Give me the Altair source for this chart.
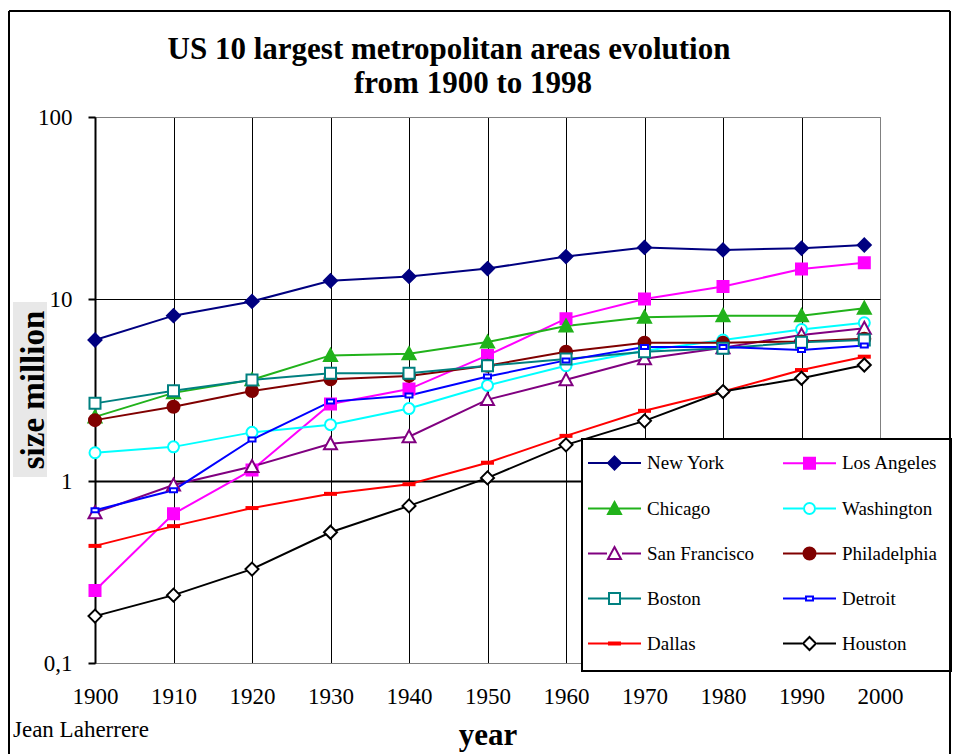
import altair as alt
import pandas as pd

# ---------------- data ----------------
years = [1900, 1910, 1920, 1930, 1940, 1950, 1960, 1970, 1980, 1990, 1998]
cities = ["New York", "Los Angeles", "Chicago", "Washington", "San Francisco",
          "Philadelphia", "Boston", "Detroit", "Dallas", "Houston"]
new_york = [5.95, 8.1, 9.7, 12.6, 13.3, 14.7, 17.1, 19.2, 18.6, 19.0, 19.8]
los_angeles = [0.25, 0.66, 1.15, 2.65, 3.2, 4.9, 7.8, 10.0, 11.7, 14.6, 15.8]
chicago = [2.25, 3.05, 3.6, 4.9, 5.0, 5.8, 7.1, 7.95, 8.1, 8.1, 8.9]
washington = [1.43, 1.54, 1.85, 2.04, 2.5, 3.35, 4.3, 5.2, 5.95, 6.8, 7.4]
san_francisco = [0.67, 0.95, 1.2, 1.6, 1.75, 2.8, 3.6, 4.7, 5.4, 6.35, 6.9]
philadelphia = [2.16, 2.56, 3.12, 3.62, 3.78, 4.3, 5.13, 5.75, 5.75, 5.85, 6.05]
boston = [2.67, 3.13, 3.59, 3.91, 3.91, 4.3, 4.68, 5.13, 5.36, 5.78, 5.95]
detroit = [0.69, 0.89, 1.69, 2.73, 2.95, 3.75, 4.6, 5.45, 5.45, 5.25, 5.55]
dallas = [0.44, 0.565, 0.71, 0.85, 0.96, 1.26, 1.77, 2.43, 3.1, 4.07, 4.82]
houston = [0.181, 0.236, 0.328, 0.523, 0.73, 1.04, 1.58, 2.14, 3.1, 3.67, 4.34]
series = [new_york, los_angeles, chicago, washington, san_francisco,
          philadelphia, boston, detroit, dallas, houston]

line_colors = ["#000080", "#FF00FF", "#21B21B", "#00FFFF", "#800080",
               "#800000", "#008080", "#0000FF", "#FF0000", "#000000"]
fill_colors = ["#000080", "#FF00FF", "#21B21B", "#FFFFFF", "#FFFFFF",
               "#800000", "#FFFFFF", "#FFFFFF", "#FF0000", "#FFFFFF"]

x_ticks = list(range(1900, 2001, 10))
y_ticks = [0.1, 1, 10, 100]

rows = []
for city, vals in zip(cities, series):
    for yr, v in zip(years, vals):
        rows.append({"city": city, "year": yr, "size": v})
df = pd.DataFrame(rows)

# ---------------- marker shapes (pixel half-sizes) ----------------
def poly(pts, s):
    return "M" + "L".join(f"{x / s:.4f},{y / s:.4f}" for x, y in pts) + "Z"

def circ(r, s):
    r = r / s
    return (f"M{-r:.4f},0A{r:.4f},{r:.4f},0,1,1,{r:.4f},0"
            f"A{r:.4f},{r:.4f},0,1,1,{-r:.4f},0Z")

def diamond(h):
    return ("p", [(0, -h), (h, 0), (0, h), (-h, 0)], h)

def square(h):
    return ("p", [(-h, -h), (h, -h), (h, h), (-h, h)], h)

def rect(w, h):
    return ("p", [(-w, -h), (w, -h), (w, h), (-w, h)], w)

def tri(h):
    return ("p", [(0, -h), (h, h - 1), (-h, h - 1)], h)

def circle(r):
    return ("c", r, r)

marker_defs = [diamond(6.5), square(5.5), tri(6.5), circle(5.5), tri(6.5),
               circle(6.0), square(5.5), rect(3.5, 2.0), rect(5.5, 1.0), diamond(6.5)]
hollow = [f == "#FFFFFF" for f in fill_colors]

MK = 7.0       # plot marker: size 196 -> 1 unit = 7 px
LG = 26.5      # legend symbol: size 2809 -> 1 unit = 26.5 px

def shape_path(d, s):
    return poly(d[1], s) if d[0] == "p" else circ(d[1], s)

marker_paths = [shape_path(d, MK) for d in marker_defs]
legend_paths = []
for d, h in zip(marker_defs, hollow):
    hw = (d[2] + 1) / LG
    line = f"M-1,0H{-hw:.4f}M{hw:.4f},0H1" if h else "M-1,0H1"
    legend_paths.append(line + shape_path(d, LG))

W, H = 785, 546
serif = "Liberation Serif"

x_enc = alt.X(
    "year:Q",
    scale=alt.Scale(domain=[1900, 2000], nice=False, zero=False),
    axis=alt.Axis(
        values=x_ticks, format="d", labelFont=serif, labelFontSize=23,
        labelColor="black", labelPadding=40, labelBaseline="alphabetic",
        ticks=False, tickSize=0, labelFlush=False, labelOverlap=False,
        domainColor="#808080", domainWidth=1,
        grid=True,
        gridColor={"condition": {"test": "datum.value > 1995", "value": "#808080"},
                   "value": "black"},
        gridWidth=1,
        title="year", titleFont=serif, titleFontSize=31, titleFontWeight="bold",
        titleColor="black", titleBaseline="alphabetic", titleY=81,
    ),
)
y_enc = alt.Y(
    "size:Q",
    scale=alt.Scale(type="log", domain=[0.1, 100], nice=False),
    axis=alt.Axis(
        values=y_ticks, format="~g", labelExpr="replace(datum.label, '.', ',')",
        labelFont=serif, labelFontSize=23, labelColor="black", labelPadding=16,
        tickSize=7, tickWidth=2, tickColor="black",
        domainColor="black", domainWidth=2,
        grid=True,
        gridColor={"condition": {"test": "datum.value > 50 || datum.value < 0.5",
                                 "value": "#808080"}, "value": "black"},
        gridWidth={"condition": {"test": "datum.value > 0.5 && datum.value < 2",
                                 "value": 2}, "value": 1},
        title=None,
    ),
)

lines = alt.Chart(df).mark_line(strokeWidth=2).encode(
    x=x_enc, y=y_enc,
    color=alt.Color("city:N", scale=alt.Scale(domain=cities, range=line_colors),
                    legend=None),
    detail="city:N",
)

markers = alt.Chart(df).mark_point(filled=True, size=196, strokeWidth=2, opacity=1).encode(
    x="year:Q", y="size:Q",
    shape=alt.Shape("city:N", scale=alt.Scale(domain=cities, range=marker_paths), legend=None),
    fill=alt.Fill("city:N", scale=alt.Scale(domain=cities, range=fill_colors), legend=None),
    stroke=alt.Stroke("city:N", scale=alt.Scale(domain=cities, range=line_colors), legend=None),
)

leg = alt.Legend(
    title=None, orient="none", direction="horizontal", legendX=492, legendY=318,
    columns=2, padding=0, rowPadding=7, columnPadding=24,
    symbolSize=2809, symbolStrokeWidth=2, symbolOpacity=1,
    symbolFillColor="white", symbolStrokeColor="black",
    labelFont=serif, labelFontSize=19, labelColor="black", labelOffset=5,
    labelLimit=300,
)

# one-row frame for decorations
one = pd.DataFrame({"k": [0]})

legend_box = alt.Chart(one).mark_rect(fill="white", stroke="black", strokeWidth=2).encode(
    x=alt.value(487), x2=alt.value(856), y=alt.value(322), y2=alt.value(554)
)

# legend-only layer: no rows drawn, the explicit domains give the entries
legend_layer = alt.Chart(df).transform_filter("false").mark_point(
    filled=True, size=2809, strokeWidth=2, opacity=1
).encode(
    x="year:Q", y="size:Q",
    shape=alt.Shape("city:N", scale=alt.Scale(domain=cities, range=legend_paths), legend=leg),
    fill=alt.Fill("city:N", scale=alt.Scale(domain=cities, range=fill_colors), legend=leg),
    stroke=alt.Stroke("city:N", scale=alt.Scale(domain=cities, range=line_colors), legend=leg),
)

border = alt.Chart(one).mark_rule(color="black", strokeWidth=2).encode(
    x=alt.value(-86), y=alt.value(-106), y2=alt.value(637)
) + alt.Chart(one).mark_rule(color="black", strokeWidth=2).encode(
    x=alt.value(855), y=alt.value(-106), y2=alt.value(637)
) + alt.Chart(one).mark_rule(color="black", strokeWidth=2).encode(
    x=alt.value(-86), x2=alt.value(855), y=alt.value(-106)
)

ytitle_bg = alt.Chart(one).mark_rect(fill="#E8E8E8").encode(
    x=alt.value(-82), x2=alt.value(-48), y=alt.value(185), y2=alt.value(360)
)
ytitle = alt.Chart(one).mark_text(
    text="size million", font=serif, fontSize=33, fontWeight="bold", angle=270,
    align="center", baseline="alphabetic", color="black",
).encode(x=alt.value(-51), y=alt.value(273))

title1 = alt.Chart(one).mark_text(
    text="US 10 largest metropolitan areas evolution", font=serif, fontSize=31,
    fontWeight="bold", align="center", baseline="alphabetic", color="black",
).encode(x=alt.value(354), y=alt.value(-58))
title2 = alt.Chart(one).mark_text(
    text="from 1900 to 1998", font=serif, fontSize=31,
    fontWeight="bold", align="center", baseline="alphabetic", color="black",
).encode(x=alt.value(378), y=alt.value(-24))

author = alt.Chart(one).mark_text(
    text="Jean Laherrere", font=serif, fontSize=23, align="left",
    baseline="alphabetic", color="black",
).encode(x=alt.value(-82), y=alt.value(620))

chart = alt.layer(
    lines, markers, legend_box, legend_layer, border, ytitle_bg, ytitle,
    title1, title2, author,
).resolve_scale(
    shape="independent", fill="independent", stroke="independent"
).properties(
    width=W, height=H,
    padding={"left": 0, "top": 2, "right": 0, "bottom": 0},
    background="white",
).configure_view(stroke="#808080", strokeWidth=1)

chart.save("out.html", embed_options={"renderer": "svg", "actions": False})
